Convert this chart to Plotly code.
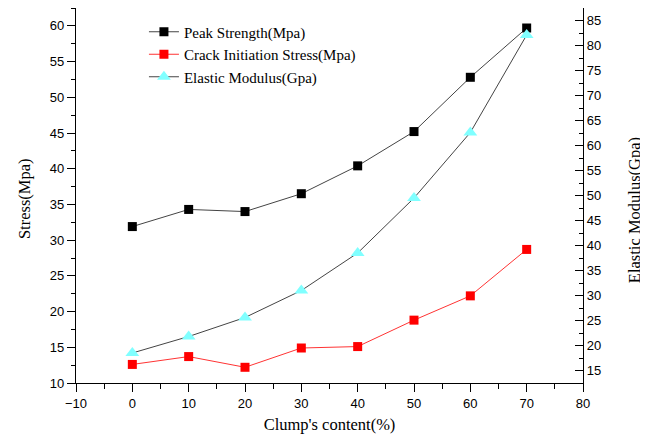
import plotly.graph_objects as go

content = [0, 10, 20, 30, 40, 50, 60, 70]
peak_strength = [31.9, 34.3, 34.0, 36.5, 40.4, 45.2, 52.8, 59.7]
crack_stress = [12.6, 13.7, 12.2, 14.9, 15.1, 18.8, 22.2, 28.7]
elastic_modulus = [18.5, 21.8, 25.6, 31.0, 38.5, 49.5, 62.6, 82.1]

serif = "Liberation Serif, Times New Roman, serif"
sans = "Liberation Sans, Arial, sans-serif"

fig = go.Figure()
fig.add_trace(go.Scatter(
    x=content, y=peak_strength, mode="lines+markers", name="Peak Strength(Mpa)",
    line=dict(color="#444444", width=1),
    marker=dict(symbol="square", size=9, color="black"),
))
fig.add_trace(go.Scatter(
    x=content, y=crack_stress, mode="lines+markers", name="Crack Initiation Stress(Mpa)",
    line=dict(color="#ff3333", width=1),
    marker=dict(symbol="square", size=9, color="#ff0000"),
))
fig.add_trace(go.Scatter(
    x=content, y=elastic_modulus, mode="lines+markers", name="Elastic Modulus(Gpa)",
    yaxis="y2",
    line=dict(color="#444444", width=1),
    marker=dict(symbol="triangle-up", size=12, color="#80ffff"),
))

axis_common = dict(
    showline=True, linecolor="black", linewidth=1.3, showgrid=False, zeroline=False,
    tickfont=dict(family=sans, size=13, color="black"),
    tickcolor="black", tickwidth=1.3, ticklen=8, automargin=False,
)

title_font = dict(family=serif, size=16.5, color="black")

fig.update_layout(
    width=648, height=440,
    margin=dict(l=68, r=73, t=0, b=65),
    paper_bgcolor="white", plot_bgcolor="white",
    showlegend=True,
    legend=dict(
        x=0.134, y=0.98, xanchor="left", yanchor="top",
        bgcolor="rgba(0,0,0,0)", borderwidth=0,
        font=dict(family=serif, size=15, color="black"),
        tracegroupgap=0,
    ),
    xaxis=dict(
        range=[-10, 80], dtick=10, tick0=0, ticks="outside",
        minor=dict(ticks="outside", dtick=5, ticklen=5, tickcolor="black", tickwidth=1.3),
        title=dict(text="Clump's content(%)", font=title_font, standoff=8),
        **axis_common,
    ),
    yaxis=dict(
        range=[10, 62.5], dtick=5, tick0=0, ticks="outside",
        minor=dict(ticks="outside", dtick=2.5, ticklen=4, tickcolor="black", tickwidth=1.3),
        **axis_common,
    ),
    yaxis2=dict(
        range=[12.5, 87.5], dtick=5, tick0=0, ticks="inside", side="right", overlaying="y",
        minor=dict(ticks="inside", dtick=2.5, ticklen=4, tickcolor="black", tickwidth=1.3),
        **axis_common,
    ),
    annotations=[
        dict(text="Stress(Mpa)", xref="paper", yref="paper", x=-0.1026, y=0.493,
             textangle=-90, showarrow=False, xanchor="center", yanchor="middle", font=title_font),
        dict(text="Elastic Modulus(Gpa)", xref="paper", yref="paper", x=1.1006, y=0.461,
             textangle=-90, showarrow=False, xanchor="center", yanchor="middle", font=title_font),
    ],
)

fig.write_html("out.html")
